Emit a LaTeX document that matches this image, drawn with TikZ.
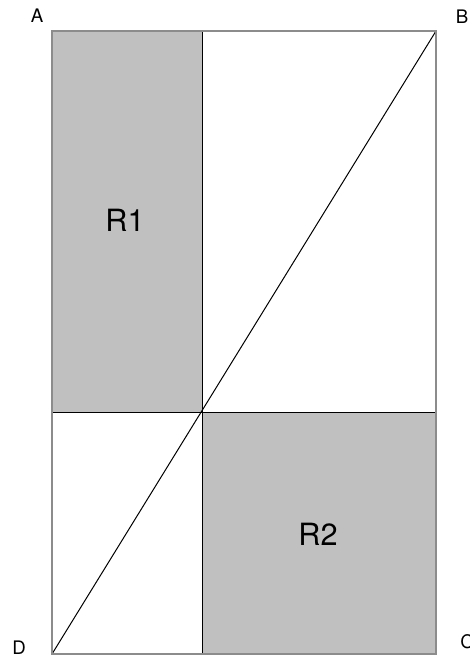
\documentclass[tikz,border=0pt]{standalone}
\usepackage{fontspec}
\setmainfont{TeX Gyre Heros}
\definecolor{regiongray}{HTML}{C0C0C0}
\definecolor{framegray}{HTML}{8C8C8C}
\tikzset{
        corner/.style={font=\fontsize{14}{16}\selectfont, inner sep=0pt},
        region/.style={font=\fontsize{23}{26}\selectfont, inner sep=0pt},
        frameline/.style={draw=framegray, line width=1.5pt}
    }

\begin{document}
\begin{tikzpicture}[x=0.75pt,y=-0.75pt]
\useasboundingbox (0,0) rectangle (469,657);

\coordinate (TL) at (52,31);
\coordinate (TR) at (436,31);
\coordinate (BR) at (436,654);
\coordinate (BL) at (52,654);
\coordinate (TOP) at (202,31);
\coordinate (BOT) at (202,654);
\coordinate (LEFT) at (52,412);
\coordinate (RIGHT) at (436,412);
\coordinate (MID) at (202,412);

\fill[regiongray] (TL) rectangle (MID);
\fill[regiongray] (MID) rectangle (BR);

\draw (37,16) node(A)[corner]{A};
\draw (462,17) node(B)[corner]{B};
\draw (467,642) node(C)[corner]{C};
\draw (19,648) node(D)[corner]{D};

\draw (125,220) node(R1)[region]{R1};
\draw (318,534) node(R2)[region]{R2};

\draw[line width=0.75pt] (TOP) -- (BOT);
\draw[line width=0.75pt] (LEFT) -- (RIGHT);
\draw[line width=0.75pt] (BL) -- (TR);

\draw[frameline] (TL) rectangle (BR);

\end{tikzpicture}
\end{document}
